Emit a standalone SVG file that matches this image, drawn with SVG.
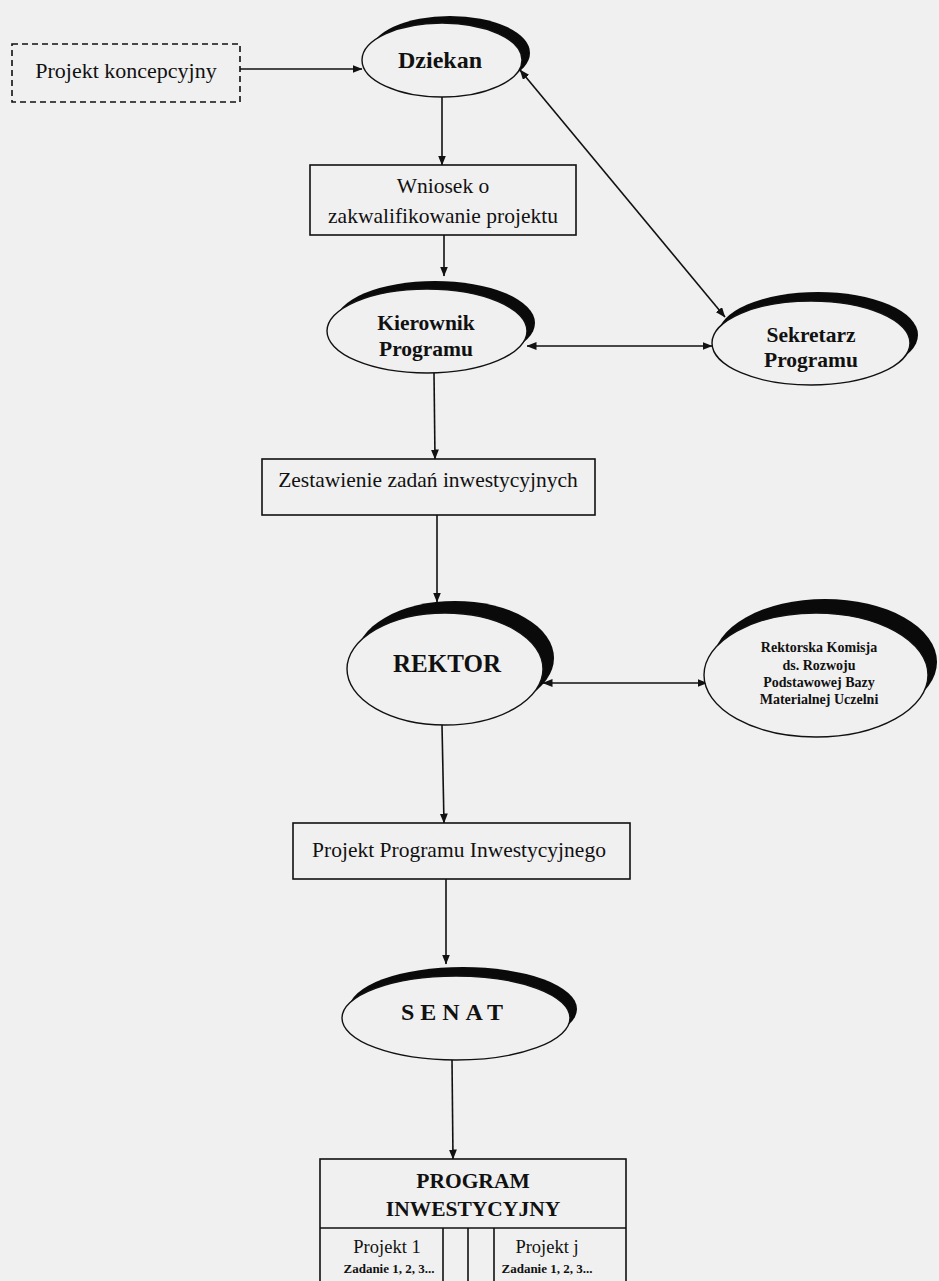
<svg xmlns="http://www.w3.org/2000/svg" width="939" height="1281" viewBox="0 0 939 1281">
<style>
.bg{fill:#f0f0f0}
.box{fill:#f0f0f0;stroke:#111;stroke-width:1.6}
.dash{fill:#f0f0f0;stroke:#111;stroke-width:1.6;stroke-dasharray:6 4}
.oval{fill:#f0f0f0;stroke:#111;stroke-width:1.4}
.shadow{fill:#0a0a0a}
.t{font-family:"Liberation Serif","Times New Roman",serif;fill:#111;text-anchor:middle}
.r{font-size:21.5px}
.b{font-weight:bold}
.conn line{stroke:#111;stroke-width:1.6}
</style>
<defs>
<marker id="ah" markerWidth="10" markerHeight="8" refX="9.5" refY="4" orient="auto-start-reverse" markerUnits="userSpaceOnUse">
<path d="M0,0 L10,4 L0,8 Z" fill="#111"/>
</marker>
</defs>
<rect class="bg" x="0" y="0" width="939" height="1281"/>

<g id="conn" class="conn">
<line x1="240" y1="69" x2="362" y2="69" marker-end="url(#ah)"/>
<line x1="442" y1="97" x2="442" y2="165" marker-end="url(#ah)"/>
<line x1="520" y1="70" x2="725" y2="317" marker-start="url(#ah)" marker-end="url(#ah)"/>
<line x1="444" y1="235" x2="444" y2="276" marker-end="url(#ah)"/>
<line x1="527" y1="346" x2="712" y2="346" marker-start="url(#ah)" marker-end="url(#ah)"/>
<line x1="434" y1="373" x2="435" y2="459" marker-end="url(#ah)"/>
<line x1="437" y1="515" x2="437" y2="602" marker-end="url(#ah)"/>
<line x1="543" y1="683" x2="707" y2="683" marker-start="url(#ah)" marker-end="url(#ah)"/>
<line x1="442" y1="725" x2="444" y2="823" marker-end="url(#ah)"/>
<line x1="446" y1="879" x2="446" y2="964" marker-end="url(#ah)"/>
<line x1="452" y1="1060" x2="453" y2="1159" marker-end="url(#ah)"/>
</g>

<g id="projekt-koncepcyjny">
<rect class="dash" x="12" y="44" width="228" height="58"/>
<text class="t" x="126" y="78" font-size="22">Projekt koncepcyjny</text>
</g>

<g id="dziekan">
<ellipse class="shadow" cx="450" cy="53" rx="80" ry="37"/>
<ellipse class="oval" cx="442" cy="60" rx="80" ry="37"/>
<text class="t b" x="440" y="68" font-size="24">Dziekan</text>
</g>

<g id="wniosek">
<rect class="box" x="310" y="165" width="266" height="70"/>
<text class="t r" x="443" y="193">Wniosek o</text>
<text class="t r" x="443" y="223">zakwalifikowanie projektu</text>
</g>

<g id="kierownik">
<ellipse class="shadow" cx="435" cy="323" rx="100" ry="42"/>
<ellipse class="oval" cx="427" cy="331" rx="100" ry="42"/>
<text class="t b" x="426" y="330" font-size="21.5">Kierownik</text>
<text class="t b" x="426" y="356" font-size="21.5">Programu</text>
</g>

<g id="sekretarz">
<ellipse class="shadow" cx="818" cy="335" rx="100" ry="43"/>
<ellipse class="oval" cx="811" cy="343" rx="99" ry="42"/>
<text class="t b" x="811" y="342" font-size="21.5">Sekretarz</text>
<text class="t b" x="811" y="367" font-size="21.5">Programu</text>
</g>

<g id="zestawienie">
<rect class="box" x="262" y="459" width="333" height="56"/>
<text class="t r" x="428" y="487">Zestawienie zadań inwestycyjnych</text>
</g>

<g id="rektor">
<ellipse class="shadow" cx="455" cy="658" rx="99" ry="57"/>
<ellipse class="oval" cx="445" cy="669" rx="98" ry="56"/>
<text class="t b" x="447" y="672" font-size="25">REKTOR</text>
</g>

<g id="komisja">
<ellipse class="shadow" cx="825" cy="662" rx="112" ry="63"/>
<ellipse class="oval" cx="816" cy="675" rx="112" ry="62"/>
<text class="t b" x="819" y="652" font-size="14">Rektorska  Komisja</text>
<text class="t b" x="819" y="670" font-size="14">ds. Rozwoju</text>
<text class="t b" x="819" y="687" font-size="14">Podstawowej Bazy</text>
<text class="t b" x="819" y="704" font-size="14">Materialnej Uczelni</text>
</g>

<g id="projekt-programu">
<rect class="box" x="293" y="823" width="337" height="56"/>
<text class="t r" x="459" y="857">Projekt Programu Inwestycyjnego</text>
</g>

<g id="senat">
<ellipse class="shadow" cx="463" cy="1009" rx="114" ry="42"/>
<ellipse class="oval" cx="456" cy="1018" rx="114" ry="42"/>
<text class="t b" x="455" y="1020" font-size="24" letter-spacing="6">SENAT</text>
</g>

<g id="program">
<rect class="box" x="320" y="1159" width="306" height="140"/>
<line x1="320" y1="1228" x2="626" y2="1228" stroke="#111" stroke-width="1.6"/>
<line x1="443" y1="1228" x2="443" y2="1290" stroke="#111" stroke-width="1.6"/>
<line x1="468" y1="1228" x2="468" y2="1290" stroke="#111" stroke-width="1.6"/>
<line x1="494" y1="1228" x2="494" y2="1290" stroke="#111" stroke-width="1.6"/>
<text class="t b" x="473" y="1188" font-size="21.5">PROGRAM</text>
<text class="t b" x="473" y="1216" font-size="21.5">INWESTYCYJNY</text>
<text class="t" x="387" y="1253" font-size="18.5">Projekt 1</text>
<text class="t b" x="389" y="1273" font-size="13">Zadanie 1, 2, 3...</text>
<text class="t" x="547" y="1253" font-size="18.5">Projekt j</text>
<text class="t b" x="547" y="1273" font-size="13">Zadanie 1, 2, 3...</text>
</g>
</svg>
